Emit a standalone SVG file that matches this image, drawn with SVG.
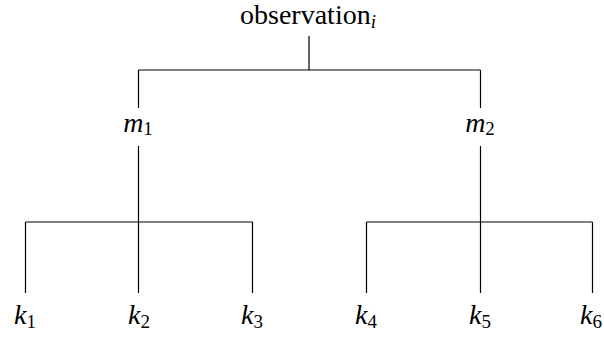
<svg xmlns="http://www.w3.org/2000/svg" width="604" height="337" viewBox="0 0 604 337">
<style>
text{font-family:'Liberation Serif','Times New Roman',serif;font-size:28px;fill:#000;text-anchor:middle}
.m{font-style:italic}
.sub{font-size:19px;font-style:normal}
.subi{font-size:19px;font-style:italic}
.c{stroke:#000;stroke-width:1.2;fill:none}
</style>
<rect width="604" height="337" fill="#fff"/>
<g id="connectors">
<path class="c" d="M309 36V70M138.5 70H480.5M138.5 70V108M480.5 70V108"/>
<path class="c" d="M138.5 146V222M25.5 222H252.5M25.5 222V293M138.5 222V293M252.5 222V293"/>
<path class="c" d="M480.5 146V222M366.5 222H592.5M366.5 222V293M480.5 222V293M592.5 222V293"/>
</g>
<g id="observation"><text x="308" y="24">observation<tspan class="subi" dy="4">i</tspan></text></g>
<g id="m1"><text class="m" x="138" y="132">m<tspan class="sub" dy="3">1</tspan></text></g>
<g id="m2"><text class="m" x="480" y="132">m<tspan class="sub" dy="3">2</tspan></text></g>
<g id="k1"><text class="m" x="25" y="324">k<tspan class="sub" dy="4">1</tspan></text></g>
<g id="k2"><text class="m" x="139" y="324">k<tspan class="sub" dy="4">2</tspan></text></g>
<g id="k3"><text class="m" x="252" y="324">k<tspan class="sub" dy="4">3</tspan></text></g>
<g id="k4"><text class="m" x="366" y="324">k<tspan class="sub" dy="4">4</tspan></text></g>
<g id="k5"><text class="m" x="480" y="324">k<tspan class="sub" dy="4">5</tspan></text></g>
<g id="k6"><text class="m" x="591" y="324">k<tspan class="sub" dy="4">6</tspan></text></g>
</svg>
